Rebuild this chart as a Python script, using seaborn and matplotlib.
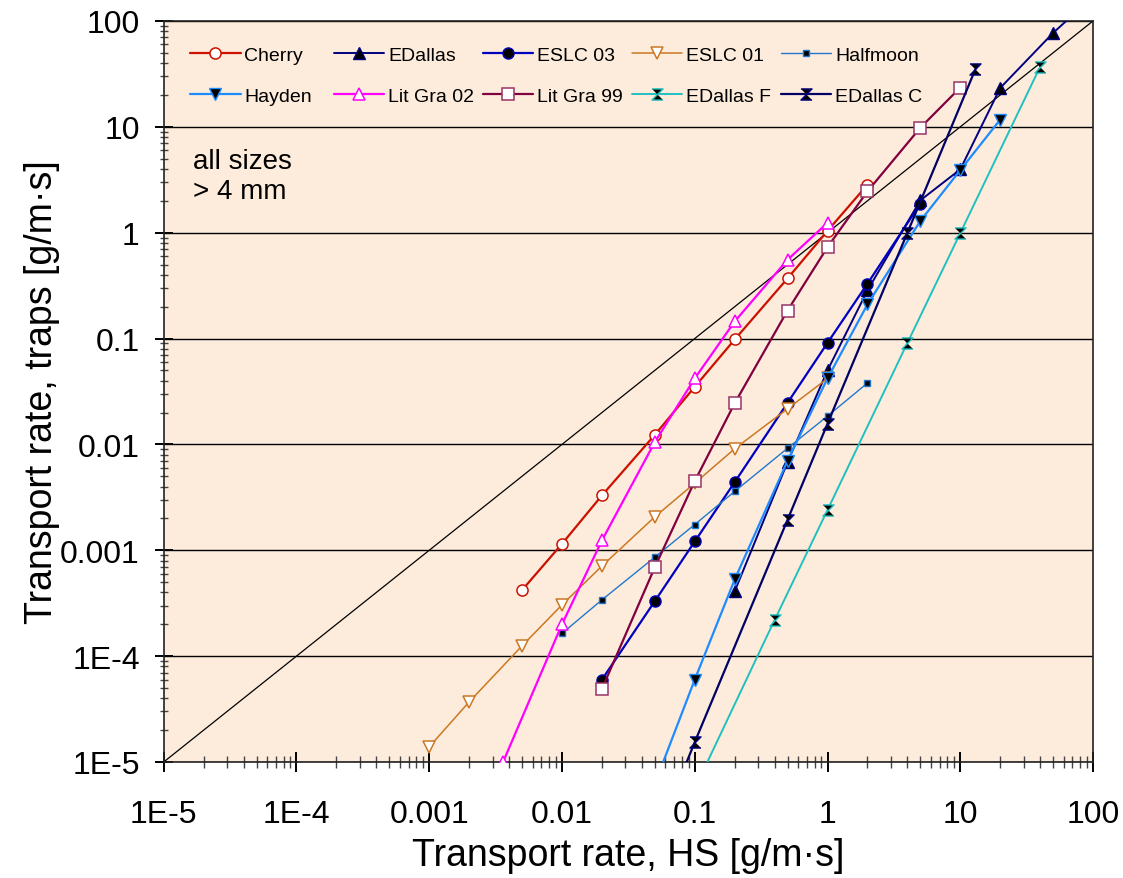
import matplotlib
matplotlib.use("Agg")
import matplotlib.pyplot as plt
import seaborn as sns
import numpy as np
import pandas as pd
from matplotlib.ticker import LogLocator, FuncFormatter, NullFormatter

# data (HS sampler vs. trap transport rates, g/m.s)
cherry_x = [0.005, 0.01, 0.02, 0.05, 0.1, 0.2, 0.5, 1, 2]
cherry_y = [4.2e-4, 1.15e-3, 3.3e-3, 0.0123, 0.035, 0.098, 0.37, 1.04, 2.84]

edallas_x = [0.2, 0.5, 1, 2, 5, 10, 20, 50, 100]
edallas_y = [4.1e-4, 6.8e-3, 0.050, 0.285, 2.02, 3.96, 23.3, 77, 170]

eslc03_x = [0.02, 0.05, 0.1, 0.2, 0.5, 1, 2, 5]
eslc03_y = [6.0e-5, 3.3e-4, 1.21e-3, 4.4e-3, 0.0247, 0.091, 0.33, 1.88]

eslc01_x = [0.001, 0.002, 0.005, 0.01, 0.02, 0.05, 0.1, 0.2, 0.5, 1]
eslc01_y = [1.39e-5, 3.7e-5, 1.25e-4, 3.05e-4, 7.1e-4, 2.07e-3, 4.3e-3, 9.1e-3, 0.0217, 0.042]

halfmoon_x = [0.01, 0.02, 0.05, 0.1, 0.2, 0.5, 1, 2]
halfmoon_y = [1.64e-4, 3.4e-4, 8.6e-4, 1.75e-3, 3.6e-3, 9.2e-3, 0.0185, 0.038]

hayden_x = [0.05, 0.1, 0.2, 0.5, 1, 2, 5, 10, 20]
hayden_y = [6.2e-6, 6.0e-5, 5.3e-4, 7.0e-3, 0.042, 0.21, 1.29, 3.9, 11.7]

litgra02_x = [0.0036, 0.01, 0.02, 0.05, 0.1, 0.2, 0.5, 1]
litgra02_y = [1.0e-5, 2.0e-4, 1.24e-3, 0.0105, 0.042, 0.145, 0.555, 1.24]

litgra99_x = [0.02, 0.05, 0.1, 0.2, 0.5, 1, 2, 5, 10]
litgra99_y = [4.9e-5, 6.9e-4, 4.5e-3, 0.0245, 0.184, 0.73, 2.46, 9.8, 23.5]

edallasf_x = [0.1, 0.4, 1, 4, 10, 40]
edallasf_y = [5.6e-6, 2.2e-4, 2.4e-3, 0.091, 0.99, 37]

edallasc_x = [0.05, 0.1, 0.5, 1, 4, 13]
edallasc_y = [1.8e-6, 1.54e-5, 1.94e-3, 0.0157, 1.0, 35]

tick_text = {-5: "1E-5", -4: "1E-4", -3: "0.001", -2: "0.01", -1: "0.1",
             0: "1", 1: "10", 2: "100"}

hourglass = [(-1, 1), (1, 1), (-1, -1), (1, -1)]

sns.set_style("ticks")
plt.rcParams["font.family"] = ["Liberation Sans", "DejaVu Sans"]
plt.rcParams["text.color"] = "black"
plt.rcParams["axes.labelcolor"] = "black"
plt.rcParams["xtick.color"] = "black"
plt.rcParams["ytick.color"] = "black"

fig = plt.figure(figsize=(11.23, 8.79), dpi=100)
ax = fig.add_axes([0.1458, 0.132, 0.8275, 0.843])
ax.set_facecolor("#FDECDC")
ax.set_xscale("log")
ax.set_yscale("log")

# 1:1 line
ax.plot([1e-5, 100], [1e-5, 100], color="black", lw=0.9, zorder=1)

series = [
    ("Cherry", cherry_x, cherry_y, dict(color="#CC1100", lw=1.6, marker="o", ms=8, mfc="white", mec="#CC1100", mew=1.1)),
    ("EDallas", edallas_x, edallas_y, dict(color="#000080", lw=1.4, marker="^", ms=8, mfc="black", mec="#000080", mew=1.0)),
    ("ESLC 03", eslc03_x, eslc03_y, dict(color="#0000C0", lw=1.6, marker="o", ms=8, mfc="black", mec="#0000C0", mew=1.0)),
    ("ESLC 01", eslc01_x, eslc01_y, dict(color="#CC7722", lw=1.1, marker="v", ms=9, mfc="white", mec="#CC7722", mew=1.1)),
    ("Halfmoon", halfmoon_x, halfmoon_y, dict(color="#2277CC", lw=1.0, marker="s", ms=5, mfc="black", mec="#2277CC", mew=1.0)),
    ("Hayden", hayden_x, hayden_y, dict(color="#1E8CFF", lw=1.6, marker="v", ms=8, mfc="black", mec="#1E8CFF", mew=1.0)),
    ("Lit Gra 02", litgra02_x, litgra02_y, dict(color="#FF00FF", lw=1.6, marker="^", ms=9, mfc="white", mec="#FF00FF", mew=1.1)),
    ("Lit Gra 99", litgra99_x, litgra99_y, dict(color="#800040", lw=1.6, marker="s", ms=8, mfc="white", mec="#993366", mew=1.1)),
    ("EDallas F", edallasf_x, edallasf_y, dict(color="#20C0C0", lw=1.4, marker=hourglass, ms=8, mfc="black", mec="#20C0C0", mew=1.0)),
    ("EDallas C", edallasc_x, edallasc_y, dict(color="#000066", lw=1.6, marker=hourglass, ms=8, mfc="black", mec="#000080", mew=1.0)),
]

for name, xs, ys, style in series:
    df = pd.DataFrame({"x": xs, "y": ys})
    sns.lineplot(data=df, x="x", y="y", ax=ax, sort=False, estimator=None,
                 label=name, zorder=3, **style)

ax.set_xlim(1e-5, 100)
ax.set_ylim(1e-5, 100)

fmt = FuncFormatter(lambda v, p: tick_text.get(int(round(np.log10(v))), "") if v > 0 else "")
for axis in (ax.xaxis, ax.yaxis):
    axis.set_major_locator(LogLocator(base=10, numticks=20))
    axis.set_minor_locator(LogLocator(base=10, subs=range(2, 10), numticks=20))
    axis.set_major_formatter(fmt)
    axis.set_minor_formatter(NullFormatter())

ax.yaxis.grid(True, which="major", color="black", lw=1.0)
ax.xaxis.grid(False)

ax.tick_params(which="major", direction="inout", labelsize=23, width=1.4, color="black")
ax.tick_params(which="minor", direction="inout", width=1.0, color="#444444")
ax.tick_params(axis="x", which="major", length=15, pad=19)
ax.tick_params(axis="x", which="minor", length=8.5)
ax.tick_params(axis="y", which="major", length=12.5, pad=11)
ax.tick_params(axis="y", which="minor", length=5.5)
for sp in ax.spines.values():
    sp.set_color("#222222")
    sp.set_linewidth(1.2)

ax.set_xlabel("Transport rate, HS [g/m·s]", fontsize=27, labelpad=6)
ax.set_ylabel("Transport rate, traps [g/m·s]", fontsize=27, labelpad=0)

ax.text(0.0315, 0.828, "all sizes\n> 4 mm", transform=ax.transAxes,
        fontsize=20, va="top", ha="left", linespacing=1.2)

# legend: 5 columns of two rows, evenly spaced like the original
handles, labels = ax.get_legend_handles_labels()
ax.get_legend().remove()
col_x = [0.0283, 0.1831, 0.3435, 0.5038, 0.6641]
for i, x0 in enumerate(col_x):
    leg = ax.legend([handles[i], handles[i + 5]], [labels[i], labels[i + 5]],
                    loc="upper left", bbox_to_anchor=(x0, 0.9655), frameon=False,
                    fontsize=14, handlelength=2.6, handletextpad=0.2,
                    labelspacing=1.2, borderaxespad=0, borderpad=0)
    ax.add_artist(leg)
ax.legend_ = None

fig.savefig("out.png", dpi=100)
